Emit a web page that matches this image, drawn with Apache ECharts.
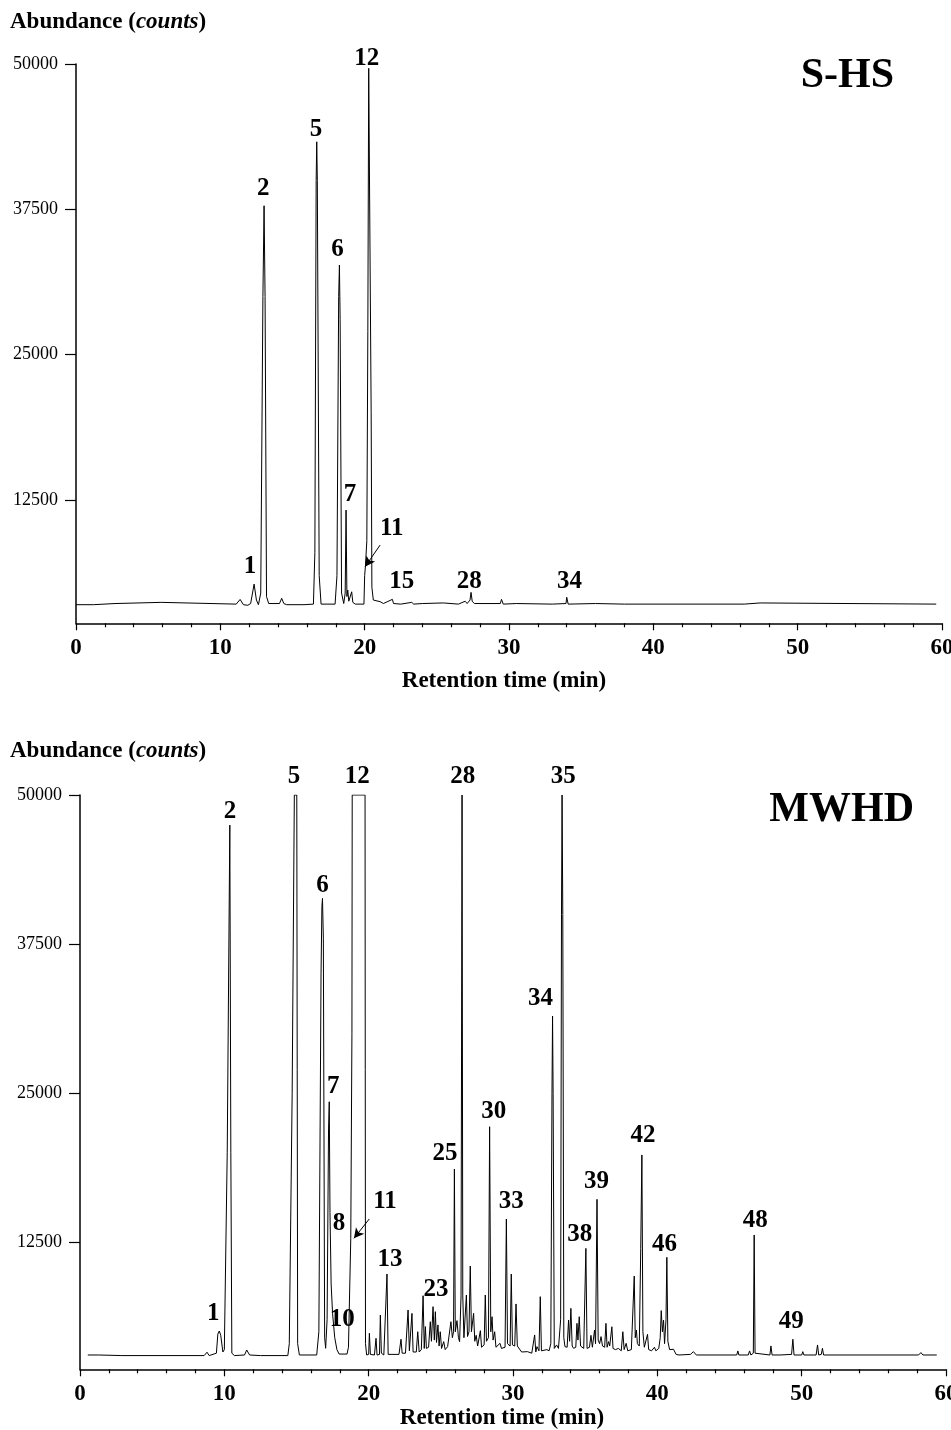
<!DOCTYPE html>
<html>
<head>
<meta charset="utf-8">
<script src="https://cdn.jsdelivr.net/npm/echarts@6/dist/echarts.min.js"></script>
<style>
html,body{margin:0;padding:0;background:#fff;}
#chart{width:951px;height:1430px;}
</style>
</head>
<body>
<div id="chart"></div>
<script>
// ---------- DATA ----------
const xTicks = [0, 10, 20, 30, 40, 50, 60];
const yTicks = [12500, 25000, 37500, 50000];

// S-HS chromatogram: [retention time (min), abundance (counts)]
const shsTrace = [
[0.0,3500],[1.2,3500],[1.25,3600],[2.7,3600],[2.75,3700],[5.9,3700],[5.95,3550],
[11.1,3550],[11.37,3950],[11.6,3500],[11.9,3450],
[12.1,3600],[12.34,5270],[12.5,3900],[12.64,3500],
[12.8,4500],[12.95,30000],[13.03,37810],[13.1,30000],[13.2,4200],[13.35,3600],
[14.1,3600],[14.25,4050],[14.4,3600],[14.6,3500],[15.8,3500],[16.45,3550],
[16.55,8000],[16.64,40000],[16.68,43310],[16.72,40000],[16.85,6000],[16.98,3550],
[17.95,3550],[18.08,6000],[18.2,30000],[18.25,32710],[18.3,28000],[18.4,4500],[18.55,3600],
[18.65,4500],[18.71,11640],[18.77,4200],[18.83,4760],[18.9,3800],[19.02,3700],[19.1,4610],[19.18,3700],[19.35,3550],
[19.95,3550],[20.0,6000],[20.05,6760],[20.15,9000],[20.22,27000],[20.28,49630],[20.38,49630],[20.45,20000],[20.5,5000],[20.6,3900],
[21.07,3760],[21.3,3600],[21.92,3960],[22.0,3600],[22.5,3550],[23.26,3700],[23.4,3550],[24.0,3600],[25.45,3650],[26.5,3550],[26.96,3800],[27.1,3600],
[27.3,3900],[27.37,4560],[27.45,3800],[27.6,3600],
[29.4,3600],[29.48,3960],[29.6,3550],
[30.5,3600],[33.0,3550],
[33.95,3600],[34.0,4140],[34.1,3550],
[36.0,3600],[38.0,3550],[46.3,3550],[46.4,3650],[47.4,3650],[47.5,3550],[59.6,3550]
];

// MWHD chromatogram: [retention time (min), abundance (counts)]
const mwhdTrace = [
[0.54,3050],[1.3,3050],[1.4,3000],[2.9,3000],[8.6,3000],[8.8,3280],[8.95,3000],
[9.45,3200],[9.55,4800],[9.65,5060],[9.75,4700],[9.9,3300],
[10.0,3500],[10.2,20000],[10.38,47480],[10.45,20000],[10.52,3200],[10.7,3000],
[11.4,3050],[11.55,3470],[11.75,3050],[12.5,3000],[14.4,3000],
[14.5,4000],[14.7,25000],[14.85,50000],[15.02,50000],[15.08,4000],[15.2,3050],
[16.4,3050],[16.55,5000],[16.7,35000],[16.76,40630],[16.8,41330],[16.86,38000],[16.95,4500],[17.02,3610],
[17.12,6000],[17.22,22000],[17.27,24280],[17.32,15000],[17.4,9000],[17.5,6500],[17.65,4500],[17.8,3500],[17.95,3130],
[18.5,3130],[18.6,3700],[18.76,12830],[18.84,30000],[18.86,50000],[19.75,50000],[19.78,4000],[19.86,3050],
[20.0,3100],[20.05,4870],[20.12,3100],[20.4,3050],[20.51,4450],[20.58,3050],[20.75,3100],[20.81,6400],[20.88,3200],[21.05,3050],[21.27,9840],[21.35,3100],[22.1,3100],
[22.24,4370],[22.32,3200],[22.55,3200],[22.73,6820],[22.82,3400],[22.93,3500],[23.0,6540],[23.08,3300],[23.3,3300],[23.4,5000],[23.5,3300],[23.65,3500],[23.77,8020],[23.85,3600],[23.93,5430],[24.0,3600],[24.15,3700],[24.27,5840],[24.35,4200],[24.46,7100],[24.55,4300],[24.62,6680],[24.7,4100],[24.8,5570],[24.88,3800],[24.96,5000],[25.05,3600],[25.2,4170],[25.3,3500],[25.47,3750],[25.6,3700],[25.7,5840],[25.8,4500],[25.88,5000],[25.94,18640],[26.0,5000],[26.12,5930],[26.22,4500],[26.3,4170],
[26.4,8000],[26.47,50000],[26.52,8000],[26.6,4500],[26.77,8080],[26.85,4600],[26.95,5000],[27.04,10510],[27.12,5000],[27.27,6540],[27.35,4200],[27.45,4700],[27.55,3800],[27.74,5090],[27.82,3700],[28.0,3900],[28.08,8080],[28.16,4200],[28.3,4500],[28.38,22190],[28.46,5000],[28.55,6260],[28.62,4300],[28.73,5000],[28.82,3700],[29.1,4030],[29.2,3600],[29.45,3700],[29.54,14450],[29.62,4000],[29.8,3800],[29.88,9840],[29.96,3900],[30.12,3800],[30.21,7330],[30.3,3800],[30.4,3750],[30.6,3300],[31.0,3330],[31.3,3200],
[31.5,4730],[31.58,3300],[31.66,3750],[31.8,3400],[31.89,7940],[31.97,3400],[32.07,3470],[32.35,3500],[32.5,3400],[32.62,4000],[32.7,25000],[32.74,31470],[32.78,25000],[32.86,3600],[33.02,3890],[33.15,3600],
[33.3,6000],[33.36,40000],[33.4,50000],[33.45,40000],[33.52,4500],[33.6,3750],[33.75,3700],[33.85,5980],[33.92,4200],[34.01,6960],[34.1,3800],[34.2,3610],[34.35,3700],[34.43,5700],[34.5,4300],[34.59,6260],[34.68,3800],[34.77,3750],[34.9,3600],[35.05,11990],[35.13,3600],[35.3,3700],[35.4,4700],[35.5,3700],[35.65,5140],[35.72,4000],[35.82,16100],[35.9,4300],[36.0,4000],[36.1,4590],[36.2,3800],[36.35,3700],[36.44,5700],[36.52,3700],[36.62,4170],[36.7,3800],[36.85,5420],[36.93,3600],[37.1,3500],[37.3,3600],[37.5,3400],[37.61,5000],[37.7,3500],[37.84,4030],[37.95,3400],[38.2,3500],[38.4,9670],[38.47,4500],[38.55,5140],[38.62,4000],[38.75,3800],[38.85,12000],[38.93,19820],[39.0,5000],[39.1,3700],[39.32,4780],[39.4,3500],[39.6,3400],[39.8,3700],[39.9,3400],[40.1,3600],[40.2,4500],[40.27,6770],[40.35,5000],[40.43,5980],[40.5,4000],[40.6,6000],[40.66,11240],[40.73,4200],[40.85,3500],[41.12,3530],[41.3,3100],[41.5,3050],[42.3,3100],[42.5,3330],[42.7,3050],[45.5,3050],[45.58,3390],[45.65,3050],[46.3,3050],[46.39,3390],[46.48,3050],[46.65,3200],[46.71,13110],[46.77,3200],[46.9,3050],[47.8,3050],[47.87,3810],[47.95,3050],[48.5,3050],[49.3,3100],[49.39,4370],[49.47,3050],[50.0,3050],[50.08,3330],[50.15,3050],[51.0,3050],[51.1,3890],[51.18,3050],[51.36,3100],[51.44,3610],[51.52,3050],[58.1,3050],[58.26,3250],[58.4,3050],[59.36,3050]
];

// Peak number annotations: [label, retention time, abundance] (label centre, data units)
const shsLabels = [
['1',12.06,6760],['2',12.98,39300],['5',16.63,44380],['6',18.11,34000],['7',18.99,12930],
['11',21.88,10060],['12',20.15,50500],['15',22.57,5470],['28',27.25,5470],['34',34.19,5530]
];
const mwhdLabels = [
['1',9.24,6550],['2',10.39,48590],['5',14.83,51580],['6',16.81,42390],['7',17.55,25540],
['8',17.94,14090],['10',18.17,5980],['11',21.13,15900],['12',19.21,51580],['13',21.48,11010],
['23',24.67,8500],['25',25.29,19960],['28',26.51,51580],['30',28.67,23450],['33',29.88,15900],
['34',31.9,32950],['35',33.48,51580],['38',34.62,13110],['39',35.79,17580],['42',39.0,21410],
['46',40.5,12330],['48',46.78,14310],['49',49.28,5840]
];
// Arrows pointing to peak 11: [from, to] in data units
const shsArrow = [[21.07,8630],[20.03,6760]];
const mwhdArrow = [[20.04,14450],[18.98,12830]];

// ---------- CHART ----------
const FONT = '"Liberation Serif","Times New Roman",serif';
const chart = echarts.init(document.getElementById('chart'), null, {renderer:'canvas'});

function xAxisCfg(gridIndex, nameGap, padRight){
  return {
    type:'value', gridIndex, min:0, max:60, interval:10,
    name:'Retention time (min)', nameLocation:'middle', nameGap,
    nameTextStyle:{fontFamily:FONT, fontWeight:'bold', fontSize:23, color:'#000', padding:[0,padRight,0,0]},
    axisLine:{show:true, onZero:false, lineStyle:{color:'#000', width:1.5}},
    axisTick:{show:true, inside:false, length:7, lineStyle:{color:'#000', width:1.2}},
    minorTick:{show:true, splitNumber:5, length:4, lineStyle:{color:'#000', width:1.2}},
    axisLabel:{fontFamily:FONT, fontWeight:'bold', fontSize:23, color:'#000', margin:13,
      formatter:v=> xTicks.includes(v) ? String(v) : ''},
    splitLine:{show:false}, minorSplitLine:{show:false}
  };
}
function yAxisCfg(gridIndex, min){
  return {
    type:'value', gridIndex, min, max:50000,
    axisLine:{show:true, onZero:false, lineStyle:{color:'#000', width:1.5}},
    axisTick:{show:true, inside:false, length:11, customValues:yTicks, lineStyle:{color:'#000', width:1.2}},
    axisLabel:{fontFamily:FONT, fontSize:18, color:'#000', margin:18, customValues:yTicks,
      formatter:v=> String(v)},
    splitLine:{show:false}
  };
}
function traceSeries(idx, data, arrow){
  return {
    type:'line', xAxisIndex:idx, yAxisIndex:idx, data, showSymbol:false, symbol:'none',
    smooth:false, clip:true, lineStyle:{color:'#000', width:1}, silent:true,
    markLine:{
      silent:true, symbol:['none','arrow'], symbolSize:[8,10],
      lineStyle:{color:'#000', width:1, type:'solid'}, label:{show:false},
      data:[[{coord:arrow[0]},{coord:arrow[1]}]]
    }
  };
}
function labelSeries(idx, labels){
  return {
    type:'scatter', xAxisIndex:idx, yAxisIndex:idx, clip:false, silent:true,
    symbolSize:0, itemStyle:{color:'#000'},
    data: labels.map(l=>({value:[l[1], l[2]], name:l[0]})),
    label:{show:true, position:'inside', formatter:p=>p.name,
      fontFamily:FONT, fontWeight:'bold', fontSize:25, color:'#000',
      textBorderWidth:0, opacity:1}
  };
}

const option = {
  animation:false,
  backgroundColor:'#fff',
  grid:[
    {left:76, top:64, width:866, height:559.3, containLabel:false, outerBoundsMode:'none'},
    {left:80, top:795, width:866, height:574.3, containLabel:false, outerBoundsMode:'none'}
  ],
  xAxis:[ xAxisCfg(0, 46, 10), xAxisCfg(1, 36, 22) ],
  yAxis:[ yAxisCfg(0, 1900), yAxisCfg(1, 1850) ],
  series:[
    traceSeries(0, shsTrace, shsArrow),
    traceSeries(1, mwhdTrace, mwhdArrow),
    labelSeries(0, shsLabels),
    labelSeries(1, mwhdLabels)
  ],
  graphic:[
    {type:'text', left:10, top:11, style:{
      text:'{b|Abundance (}{i|counts}{b|)}',
      rich:{ b:{fontFamily:FONT, fontWeight:'bold', fontSize:23, fill:'#000'},
             i:{fontFamily:FONT, fontWeight:'bold', fontStyle:'italic', fontSize:23, fill:'#000'} }
    }},
    {type:'text', left:10, top:740, style:{
      text:'{b|Abundance (}{i|counts}{b|)}',
      rich:{ b:{fontFamily:FONT, fontWeight:'bold', fontSize:23, fill:'#000'},
             i:{fontFamily:FONT, fontWeight:'bold', fontStyle:'italic', fontSize:23, fill:'#000'} }
    }},
    {type:'text', x:894, y:76, style:{text:'S-HS', fontFamily:FONT, fontWeight:'bold', fontSize:42,
      fill:'#000', textAlign:'right', textVerticalAlign:'middle'}},
    {type:'text', x:914, y:810, style:{text:'MWHD', fontFamily:FONT, fontWeight:'bold', fontSize:42,
      fill:'#000', textAlign:'right', textVerticalAlign:'middle'}}
  ]
};
chart.setOption(option);
</script>
</body>
</html>
